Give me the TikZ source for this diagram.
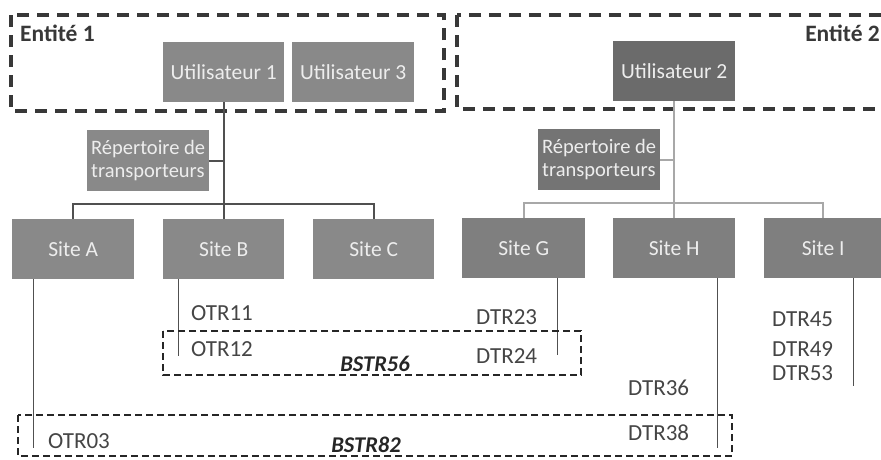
\documentclass[tikz,border=0pt]{standalone}
\usepackage{fontspec}
\setmainfont{Carlito}
\definecolor{boxA}{HTML}{898989}
\definecolor{boxU}{HTML}{6B6B6B}
\definecolor{boxR}{HTML}{747474}
\definecolor{boxS}{HTML}{7F7F7F}
\definecolor{labc}{HTML}{454545}
\definecolor{dashc}{HTML}{383838}
\definecolor{linA}{HTML}{505050}
\definecolor{linB}{HTML}{A8A8A8}
\tikzset{
  gbox/.style={fill=boxA, text=white!93!black, font=\fontsize{21.5}{24}\selectfont,
    inner sep=0pt, anchor=north west, minimum height=60pt},
  lab/.style={text=labc, font=\fontsize{23}{25}\selectfont, inner sep=0pt, anchor=west},
  bst/.style={text=black!85, font=\fontsize{22.5}{24}\selectfont\bfseries\itshape, inner sep=0pt},
  ent/.style={text=dashc, font=\fontsize{23.5}{25}\selectfont\bfseries, inner sep=0pt},
  entbox/.style={draw=dashc, line width=3.2pt, dash pattern=on 12pt off 8pt},
  grpbox/.style={draw=black!85, line width=2.8pt, dash pattern=on 7pt off 4pt},
  connA/.style={draw=linA, line width=1.8pt},
  connB/.style={draw=linB, line width=2pt},
  drop/.style={draw=linA, line width=1pt},
}
\begin{document}
\begin{tikzpicture}[x=1pt,y=-1pt]
\useasboundingbox (0,0) rectangle (881,459);
\clip (0,0) rectangle (881,459);
\fill[white] (0,0) rectangle (881,459);
% entity boxes
\draw[entbox] (11,15) rectangle (444,111);
\draw[entbox] (457,15) rectangle (895,109);
\node[ent, anchor=west] (e1) at (20,33) {Entité 1};
\node[ent, anchor=east] (e2) at (880,33) {Entité 2};
% users
\node[gbox, minimum width=121pt] (u1) at (163,42) {Utilisateur 1};
\node[gbox, minimum width=122pt] (u3) at (292,42) {Utilisateur 3};
\node[gbox, fill=boxU, minimum width=122pt] (u2) at (613,41) {Utilisateur 2};
% repertoires
\node[gbox, minimum width=122pt, minimum height=61pt, font=\fontsize{20.5}{23}\selectfont, align=left] (r1) at (87,130)
  {\makebox[114pt][s]{Répertoire de}\\transporteurs};
\node[gbox, fill=boxR, minimum width=122pt, minimum height=61pt, font=\fontsize{20.5}{23}\selectfont, align=left] (r2) at (538,129)
  {\makebox[114pt][s]{Répertoire de}\\transporteurs};
% sites
\node[gbox, minimum width=122pt] (sA) at (12,219) {Site A};
\node[gbox, minimum width=121pt] (sB) at (163,219) {Site B};
\node[gbox, minimum width=121pt] (sC) at (313,219) {Site C};
\node[gbox, fill=boxS, minimum width=123pt] (sG) at (462,218) {Site G};
\node[gbox, fill=boxS, minimum width=122pt] (sH) at (613,218) {Site H};
\node[gbox, fill=boxS, minimum width=118pt] (sI) at (764,218) {Site I};
% entity 1 tree
\coordinate (b1) at (224,204);
\draw[connA] (u1.south) -- (u1.south |- b1);
\draw[connA] (r1.east) -- (r1.east -| b1);
\draw[connA] (sA.north) -- (sA.north |- b1) -- (sC.north |- b1) -- (sC.north);
\draw[connA] (sB.north) -- (sB.north |- b1);
% entity 2 tree
\coordinate (b2) at (675,203);
\draw[connB] (u2.south) -- (u2.south |- b2);
\draw[connB] (r2.east) -- (r2.east -| b2);
\draw[connB] (sG.north) -- (sG.north |- b2) -- (sI.north |- b2) -- (sI.north);
\draw[connB] (sH.north) -- (sH.north |- b2);
% drop lines
\coordinate (dA) at (33,448);
\coordinate (dB) at (178,356);
\coordinate (dG) at (557,355);
\coordinate (dH) at (717,448);
\coordinate (dI) at (853,386);
\draw[drop] (sA.south -| dA) -- (dA);
\draw[drop] (sB.south -| dB) -- (dB);
\draw[drop] (sG.south -| dG) -- (dG);
\draw[drop] (sH.south -| dH) -- (dH);
\draw[drop] (sI.south -| dI) -- (dI);
% labels
\node[lab] (o11) at (191,313) {OTR11};
\node[lab] (o12) at (191,349) {OTR12};
\node[lab] (d23) at (476,317) {DTR23};
\node[lab] (d24) at (476,356) {DTR24};
\node[lab] (d36) at (628,388) {DTR36};
\node[lab] (d38) at (628,433) {DTR38};
\node[lab] (d45) at (772,319) {DTR45};
\node[lab] (d49) at (772,349) {DTR49};
\node[lab] (d53) at (772,373) {DTR53};
\node[lab] (o03) at (48,441) {OTR03};
% group boxes
\draw[grpbox] (163,331) rectangle (581,375);
\draw[grpbox] (18,415) rectangle (732,456);
\node[bst] (b56) at (375,364) {BSTR56};
\node[bst] (b82) at (366,445) {BSTR82};
\end{tikzpicture}
\end{document}
